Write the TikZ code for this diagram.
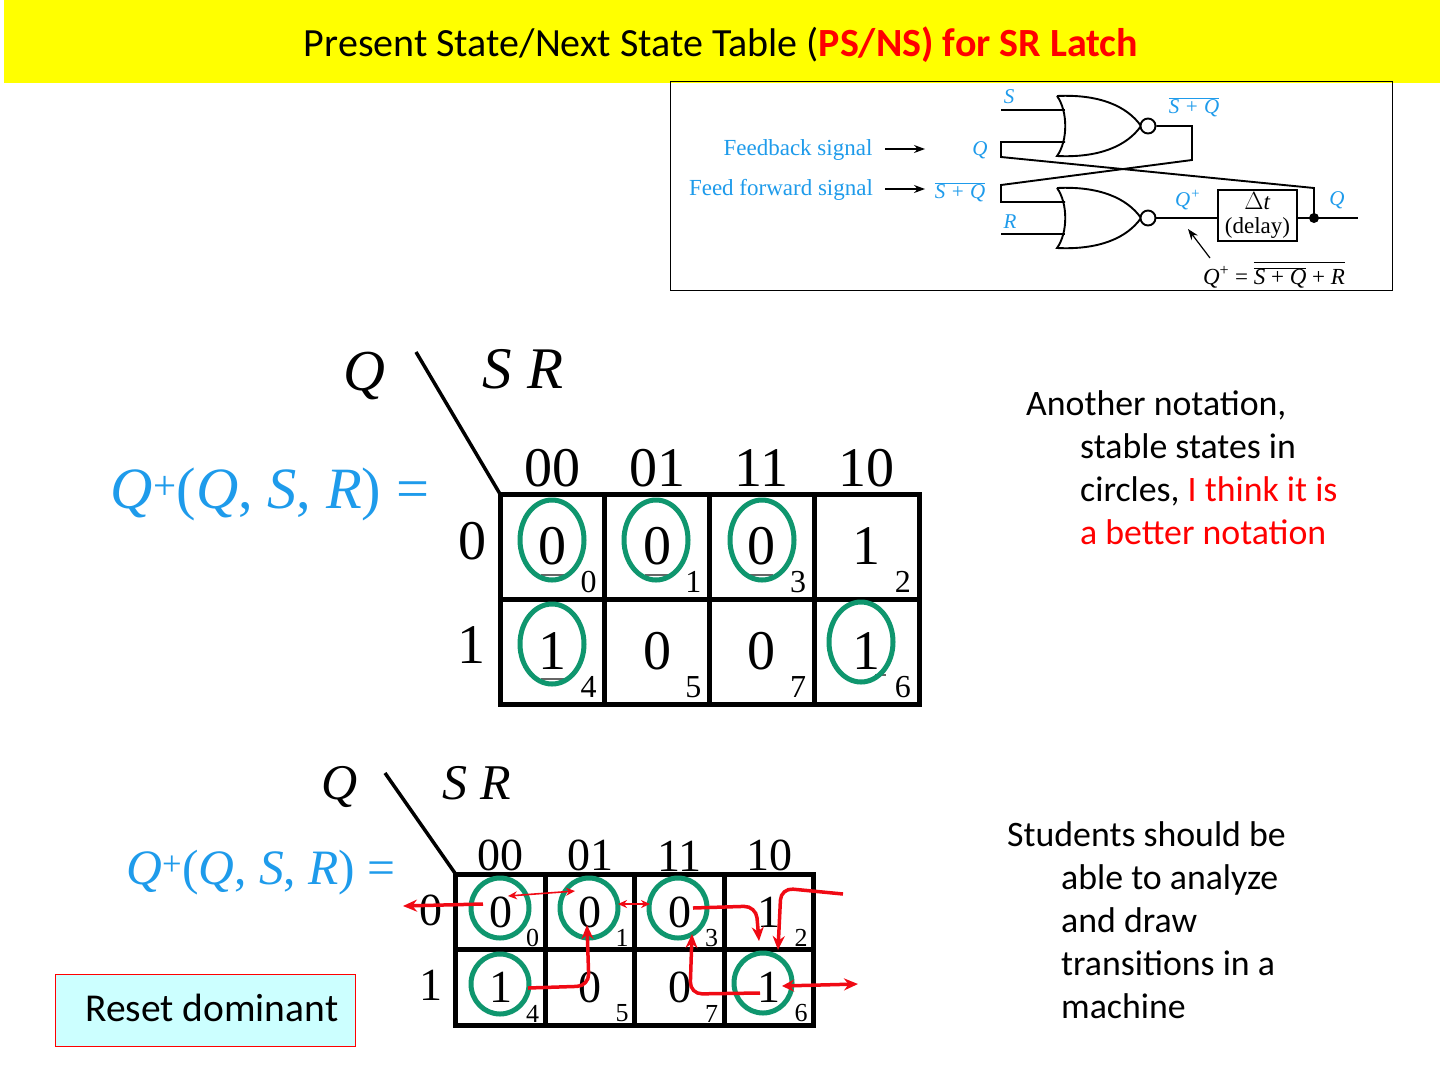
\documentclass[tikz,border=0pt]{standalone}
\usepackage{fontspec}
\setmainfont{Carlito}
\newfontfamily\timesf{Liberation Serif}
\usepackage{tikz}
\usetikzlibrary{shapes.geometric, arrows.meta, positioning}
\usepackage{xcolor}
\definecolor{banner}{RGB}{255,255,0}
\definecolor{signal}{RGB}{30,155,235}
\definecolor{ring}{RGB}{15,150,110}
\definecolor{trans}{RGB}{240,10,20}
\definecolor{note}{RGB}{204,255,255}
\newcommand{\fsize}[1]{\fontsize{#1}{#1}\selectfont}

\begin{document}
\begin{tikzpicture}[
    x=1pt, y=-1pt,
    title/.style={font=\fontsize{40}{48}\selectfont, inner sep=0pt},
    remark/.style={align=left, anchor=north west, font=\fontsize{35.8}{43}\selectfont, inner sep=0pt},
    wire/.style={line width=1.9pt, black},
    sig/.style={text=signal, inner sep=0pt, font=\timesf\fsize{23}},
    sigm/.style={text=signal, inner sep=0pt, font=\timesf\itshape\fsize{21}},
    blk/.style={inner sep=0pt, font=\timesf\fsize{23}},
    small arr/.style={-{Stealth[length=11pt, width=8pt]}, line width=1.2pt, black},
    bubble/.style={circle, draw, line width=1.9pt, fill=white, minimum size=15pt, inner sep=0pt},
    nor/.pic={
        \draw[wire] (0,0) .. controls (42,-2) and (70,10) .. (84,30) .. controls (70,50) and (42,62) .. (0,60) .. controls (11,45) and (11,15) .. (0,0);
        \node[bubble] (-out) at (91,30) {};
        \coordinate (-a) at (8,14);
        \coordinate (-b) at (8,46);
    },
    cellbig/.style={rectangle, draw, line width=5pt, outer sep=0pt, inner sep=0pt, minimum width=104.75pt, minimum height=105pt, font=\timesf\fsize{56}},
    cellsmall/.style={rectangle, draw, line width=5pt, outer sep=0pt, inner sep=0pt, minimum width=89.5pt, minimum height=75.5pt, font=\timesf\fsize{46}},
    headbig/.style={inner sep=0pt, font=\timesf\fsize{56}},
    headsmall/.style={inner sep=0pt, font=\timesf\fsize{46}},
    idxbig/.style={inner sep=0pt, font=\timesf\fsize{32}},
    idxsmall/.style={inner sep=0pt, font=\timesf\fsize{26}},
    ringbig/.style={ellipse, draw=ring, line width=5pt, minimum width=64pt, minimum height=80pt, inner sep=0pt},
    ringsmall/.style={ellipse, draw=ring, line width=5pt, minimum width=58pt, minimum height=60pt, inner sep=0pt},
    slash/.style={line width=3.5pt, black},
    dash mark/.style={line width=1.5pt, black!60},
    arr/.style={-{Stealth[length=14pt, width=12pt]}, line width=3.5pt, trans, rounded corners=12pt},
    arrs/.style={{Stealth[length=9pt, width=8pt]}-{Stealth[length=9pt, width=8pt]}, line width=1.6pt, trans},
    arrb/.style={{Stealth[length=12pt, width=12pt]}-{Stealth[length=14pt, width=12pt]}, line width=3.5pt, trans},
]
\useasboundingbox (0,0) rectangle (1440,1080);
\fill[white] (0,0) rectangle (1440,1080);

% banner
\fill[banner] (4,0) rectangle (1440,83);
\node[title] (heading) at (721,45) {Present State/Next State Table (\textcolor{red}{\textbf{PS/NS) for SR Latch}}};

% latch
\draw[black, line width=0.8pt] (670.5,81.5) rectangle (1392.5,290.5);
\pic (gone) at (1057,96) {nor};
\pic (gtwo) at (1057,188) {nor};
\node[draw, line width=1.9pt, minimum width=79pt, minimum height=51pt, inner sep=0pt, align=center, font=\timesf\fsize{23}, fill=white] (delay) at (1257.5,215.5) {$\Delta$\textit{t}\\[1pt](delay)};
\coordinate (sin) at (1001,110);
\coordinate (qtop) at (1001,142);
\coordinate (qbot) at (1001,157);
\coordinate (fb) at (1192,160);
\coordinate (ffa) at (1001,185);
\coordinate (ffb) at (1001,202);
\coordinate (rin) at (1001,234);
\coordinate (outq) at (1358,218);
\coordinate (tap) at (1314,218);
\coordinate (tapup) at (1314,188);
\draw[wire] (sin) -- (gone-a);
\draw[wire] (gone-b) -- (qtop) -- (qbot) -- (tapup) -- (tap);
\draw[wire] (gone-out) -| (fb) -- (ffa) -- (ffb) -- (gtwo-a);
\draw[wire] (rin) -- (gtwo-b);
\draw[wire] (gtwo-out) -- (gtwo-out -| delay.west);
\draw[wire] (delay.east |- outq) -- (outq);
\fill[black] (tap) circle (5pt);

\node[sigm] (ls) at (1009,97) {S};
\node[sigm] (lsq) at (1194,107) {$\overline{\hbox{\textit{S} + \textit{Q}}}$};
\node[sig] (lfb) at (798,150) {Feedback signal};
\node[sig] (lff) at (781,190) {Feed forward signal};
\node[sigm] (lq) at (980,150) {Q};
\node[sigm] (lsq2) at (960,192) {$\overline{\hbox{\textit{S} + \textit{Q}}}$};
\node[sigm] (lr) at (1010,222) {R};
\node[sigm] (lqp) at (1188,200) {Q\textsuperscript{+}};
\node[sigm] (lqo) at (1337,200) {Q};
\node[blk] (eqn) at (1274,275) {\textit{Q}\textsuperscript{+} = $\overline{\hbox{\rule{0pt}{21pt}$\overline{\hbox{\textit{S} + \textit{Q}}}$ + \textit{R}}}$};
\coordinate (tfb) at (925,149);
\coordinate (tff) at (925,189);
\coordinate (teq) at (1188,229);
\draw[small arr] (885,149) -- (tfb);
\draw[small arr] (885,189) -- (tff);
\draw[small arr] (1210,258) -- (teq);

% first map
\node[cellbig] (c00) at (552.4,546.5) {0};
\node[cellbig, right=0pt of c00] (c01) {0};
\node[cellbig, right=0pt of c01] (c11) {0};
\node[cellbig, right=0pt of c11] (c10) {1};
\node[cellbig, below=0pt of c00] (d00) {1};
\node[cellbig, right=0pt of d00] (d01) {0};
\node[cellbig, right=0pt of d01] (d11) {0};
\node[cellbig, right=0pt of d11] (d10) {1};

\node[headbig, above=7pt of c00] (h00) {00};
\node[headbig, above=7pt of c01] (h01) {01};
\node[headbig, above=7pt of c11] (h11) {11};
\node[headbig, above=7pt of c10] (h10) {10};
\node[headbig] (r0) at (472,541) {0};
\node[headbig] (r1) at (471,645) {1};

\node[idxbig, above left=6pt and 8pt of c00.south east] (i0) {0};
\node[idxbig, above left=6pt and 8pt of c01.south east] (i1) {1};
\node[idxbig, above left=6pt and 8pt of c11.south east] (i3) {3};
\node[idxbig, above left=6pt and 8pt of c10.south east] (i2) {2};
\node[idxbig, above left=6pt and 8pt of d00.south east] (i4) {4};
\node[idxbig, above left=6pt and 8pt of d01.south east] (i5) {5};
\node[idxbig, above left=6pt and 8pt of d11.south east] (i7) {7};
\node[idxbig, above left=6pt and 8pt of d10.south east] (i6) {6};

\draw[dash mark] (541,575) -- (564,575);
\draw[dash mark] (645,575) -- (668,575);
\draw[dash mark] (750,575) -- (773,575);
\draw[dash mark] (541,679) -- (564,679);
\draw[dash mark] (875,675) -- (886,675);

\node[ringbig] (e00) at (552,540) {};
\node[ringbig] (e01) at (656,540) {};
\node[ringbig] (e11) at (762,540) {};
\node[ringbig] (e40) at (552,644) {};
\node[ringbig] (e60) at (861,642) {};

\node[inner sep=0pt, font=\timesf\itshape\fsize{58}] (qa) at (364,376) {Q};
\node[inner sep=0pt, font=\timesf\itshape\fsize{59}] (sra) at (523,369) {S R};
\coordinate (sla) at (416,352);
\draw[slash] (sla) -- (c00.north west);
\node[inner sep=0pt, text=signal, font=\timesf\fsize{58.5}] (fa) at (270,494) {\textit{Q}\textsuperscript{+}(\textit{Q}, \textit{S}, \textit{R}) =};

% second map
\node[cellsmall] (m00) at (500.5,912) {0};
\node[cellsmall, right=0pt of m00] (m01) {0};
\node[cellsmall, right=0pt of m01] (m11) {0};
\node[cellsmall, right=0pt of m11] (m10) {1};
\node[cellsmall, below=0pt of m00] (n00) {1};
\node[cellsmall, right=0pt of n00] (n01) {0};
\node[cellsmall, right=0pt of n01] (n11) {0};
\node[cellsmall, right=0pt of n11] (n10) {1};

\node[headsmall, above=3pt of m00.north] (k00) {00};
\node[headsmall, above=3pt of m01.north] (k01) {01};
\node[headsmall, above=3pt of m11.north] (k11) {11};
\node[headsmall, above=3pt of m10.north] (k10) {10};
\node[headsmall] (s0) at (431,910) {0};
\node[headsmall] (s1) at (431,985) {1};

\node[idxsmall, above left=3pt and 6pt of m00.south east] (j0) {0};
\node[idxsmall, above left=3pt and 6pt of m01.south east] (j1) {1};
\node[idxsmall, above left=3pt and 6pt of m11.south east] (j3) {3};
\node[idxsmall, above left=3pt and 6pt of m10.south east] (j2) {2};
\node[idxsmall, above left=3pt and 6pt of n00.south east] (j4) {4};
\node[idxsmall, above left=3pt and 6pt of n01.south east] (j5) {5};
\node[idxsmall, above left=3pt and 6pt of n11.south east] (j7) {7};
\node[idxsmall, above left=3pt and 6pt of n10.south east] (j6) {6};

\node[ringsmall] (o00) at (500,908) {};
\node[ringsmall] (o01) at (589,908) {};
\node[ringsmall] (o11) at (678,908) {};
\node[ringsmall] (o40) at (500,984) {};
\node[ringsmall] (o60) at (763,983) {};

\node[inner sep=0pt, font=\timesf\itshape\fsize{50}] (qb) at (340,787) {Q};
\node[inner sep=0pt, font=\timesf\itshape\fsize{50}] (srb) at (477,783) {S R};
\coordinate (slb) at (385,773);
\draw[slash] (slb) -- (m00.north west);
\node[inner sep=0pt, text=signal, font=\timesf\fsize{49.5}] (fb2) at (261,873) {\textit{Q}\textsuperscript{+}(\textit{Q}, \textit{S}, \textit{R}) =};

% transitions
\coordinate (ta) at (483,904);
\coordinate (tb) at (403,906);
\coordinate (tc) at (693,908);
\coordinate (td) at (759,941);
\coordinate (te) at (843,894);
\coordinate (tf) at (778,950);
\coordinate (tg) at (528,988);
\coordinate (th) at (587,925);
\coordinate (ti) at (760,993);
\coordinate (tj) at (692,934);
\coordinate (tk) at (782,986);
\coordinate (tl) at (858,984);
\coordinate (tm) at (508,896);
\coordinate (tn) at (575,891);
\coordinate (tp) at (618,904);
\coordinate (tq) at (650,904);
\draw[arr] (ta) -- (tb);
\draw[arrs] (tm) -- (tn);
\draw[arrs] (tp) -- (tq);
\draw[arr] (tc) -- (756,906) -- (td);
\draw[arr] (te) -- (781,888) -- (tf);
\draw[arr] (tg) -- (589,986) -- (th);
\draw[arr] (ti) -- (690,994) -- (tj);
\draw[arrb] (tk) -- (tl);

% remarks
\node[remark] (rema) at (1026,390) {Another notation,\\\hspace*{54pt}stable states in\\\hspace*{54pt}circles, \textcolor{red}{I think it is}\\\hspace*{54pt}\textcolor{red}{a better notation}};
\node[remark] (remb) at (1007,821) {Students should be\\\hspace*{54pt}able to analyze\\\hspace*{54pt}and draw\\\hspace*{54pt}transitions in a\\\hspace*{54pt}machine};

% reset box
\node[rectangle, draw=red, line width=0.7pt, fill=note, minimum width=300pt, minimum height=72pt, inner sep=0pt] (reset) at (205.5,1010) {};
\node[inner sep=0pt, font=\fontsize{39.5}{46}\selectfont, right=30pt of reset.west, yshift=2pt] (resetlab) {Reset dominant};
\end{tikzpicture}
\end{document}
